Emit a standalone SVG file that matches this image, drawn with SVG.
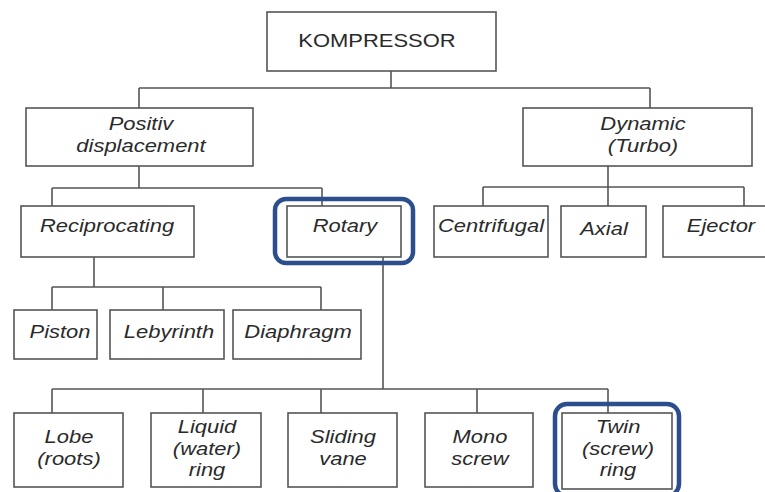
<svg xmlns="http://www.w3.org/2000/svg" width="765" height="492" viewBox="0 0 765 492">
<style>
.box{fill:#fff;stroke:#555;stroke-width:1.6}
.t{font-family:"Liberation Sans",Arial,sans-serif;font-size:18px;font-style:italic;fill:#2a2a2a;text-anchor:middle}
.tr{font-family:"Liberation Sans",Arial,sans-serif;font-size:18px;fill:#2a2a2a;text-anchor:middle}
.hl{fill:none;stroke:#2D4E8C;stroke-width:4.5}
#connectors path{fill:none;stroke:#555;stroke-width:1.6}
</style>
<rect width="765" height="492" fill="#fff"/>
<g id="connectors">
<path d="M391 71V88M139 88H650M139 88V108M650 88V108"/>
<path d="M139 166V188M52 188H322M52 188V206M322 188V206"/>
<path d="M608 166V206M483 187H744M483 187V206M744 187V206"/>
<path d="M94 257V287M52 287H321M52 287V310M163 287V310M321 287V310"/>
<path d="M383 257V389M52 389H608M52 389V413M203 389V413M321 389V413M477 389V413M608 389V413"/>
</g>
<g id="kompressor"><rect class="box" x="267" y="12" width="229" height="59"/><text class="tr" transform="translate(377 47) scale(1.22 1)">KOMPRESSOR</text></g>
<g id="positiv"><rect class="box" x="26" y="108" width="227" height="58"/><text class="t" transform="translate(141 130) scale(1.22 1)"><tspan x="0" y="0">Positiv</tspan><tspan x="0" y="22">displacement</tspan></text></g>
<g id="dynamic"><rect class="box" x="523" y="108" width="229" height="58"/><text class="t" transform="translate(643 130) scale(1.22 1)"><tspan x="0" y="0">Dynamic</tspan><tspan x="0" y="22">(Turbo)</tspan></text></g>
<g id="reciprocating"><rect class="box" x="21" y="206" width="173" height="51"/><text class="t" transform="translate(107 232) scale(1.22 1)">Reciprocating</text></g>
<g id="rotary"><rect class="box" x="287" y="206" width="114" height="51"/><text class="t" transform="translate(345 232) scale(1.22 1)">Rotary</text><rect class="hl" x="275" y="199" width="138" height="64" rx="11"/></g>
<g id="centrifugal"><rect class="box" x="434" y="206" width="114" height="51"/><text class="t" transform="translate(491 232) scale(1.22 1)">Centrifugal</text></g>
<g id="axial"><rect class="box" x="561" y="206" width="85" height="51"/><text class="t" transform="translate(604 235) scale(1.22 1)">Axial</text></g>
<g id="ejector"><rect class="box" x="663" y="206" width="110" height="51"/><text class="t" transform="translate(721 232) scale(1.22 1)">Ejector</text></g>
<g id="piston"><rect class="box" x="14" y="310" width="83" height="49"/><text class="t" transform="translate(60 338) scale(1.22 1)">Piston</text></g>
<g id="lebyrinth"><rect class="box" x="110" y="310" width="114" height="49"/><text class="t" transform="translate(169 338) scale(1.22 1)">Lebyrinth</text></g>
<g id="diaphragm"><rect class="box" x="233" y="310" width="128" height="49"/><text class="t" transform="translate(298 338) scale(1.22 1)">Diaphragm</text></g>
<g id="lobe"><rect class="box" x="14" y="413" width="109" height="74"/><text class="t" transform="translate(69 443) scale(1.22 1)"><tspan x="0" y="0">Lobe</tspan><tspan x="0" y="22">(roots)</tspan></text></g>
<g id="liquid"><rect class="box" x="151" y="413" width="110" height="74"/><text class="t" transform="translate(207 433) scale(1.22 1)"><tspan x="0" y="0">Liquid</tspan><tspan x="0" y="22">(water)</tspan><tspan x="0" y="43">ring</tspan></text></g>
<g id="sliding"><rect class="box" x="288" y="413" width="109" height="74"/><text class="t" transform="translate(343 443) scale(1.22 1)"><tspan x="0" y="0">Sliding</tspan><tspan x="0" y="22">vane</tspan></text></g>
<g id="mono"><rect class="box" x="425" y="413" width="108" height="74"/><text class="t" transform="translate(480 443) scale(1.22 1)"><tspan x="0" y="0">Mono</tspan><tspan x="0" y="22">screw</tspan></text></g>
<g id="twin"><rect class="box" x="562" y="413" width="110" height="76"/><text class="t" transform="translate(618 433) scale(1.22 1)"><tspan x="0" y="0">Twin</tspan><tspan x="0" y="22">(screw)</tspan><tspan x="0" y="43">ring</tspan></text><rect class="hl" x="555" y="404" width="124" height="92" rx="12"/></g>
</svg>
